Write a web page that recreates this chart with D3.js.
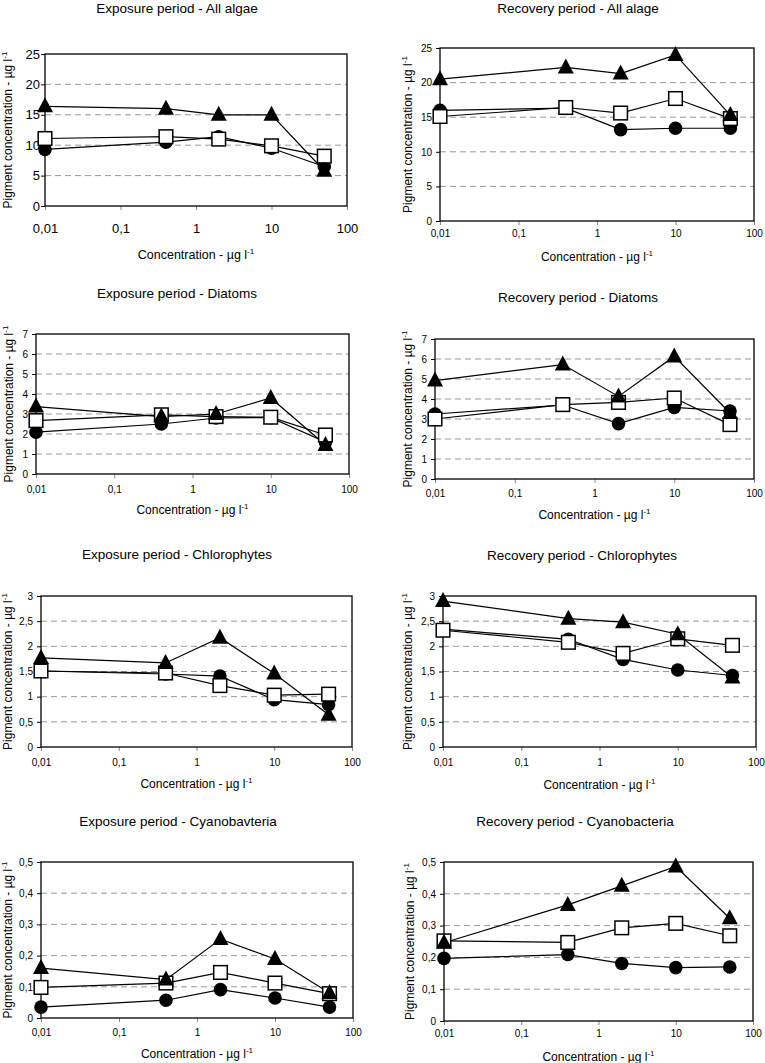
<!DOCTYPE html>
<html><head><meta charset="utf-8">
<script src="https://cdn.jsdelivr.net/npm/d3@7"></script>
<style>body{margin:0;background:#fff}svg{display:block}text{font-family:Arial,"Liberation Sans",sans-serif;fill:#000}</style>
</head><body>
<svg id="c" width="765" height="1063"></svg>
<script>
// ---- data ----
const concentrations = [0.01, 0.4, 2, 10, 50];
const xTickValues = [0.01, 0.1, 1, 10, 100];
const xTickLabels = ["0,01", "0,1", "1", "10", "100"];
const panelTitles = [
  "Exposure period - All algae", "Recovery period - All alage",
  "Exposure period - Diatoms", "Recovery period - Diatoms",
  "Exposure period - Chlorophytes", "Recovery period - Chlorophytes",
  "Exposure period - Cyanobavteria", "Recovery period - Cyanobacteria"
];
const yMaxValues = [25, 25, 7, 7, 3, 3, 0.5, 0.5];
const yStepValues = [5, 5, 1, 1, 0.5, 0.5, 0.1, 0.1];
const triangleSeries = [
  [16.4, 16.0, 15.0, 15.0, 5.8],
  [20.5, 22.2, 21.3, 24.0, 15.3],
  [3.37, 2.87, 3.0, 3.8, 1.45],
  [4.92, 5.72, 4.13, 6.13, 3.3],
  [1.77, 1.67, 2.17, 1.46, 0.64],
  [2.9, 2.55, 2.48, 2.24, 1.38],
  [0.16, 0.123, 0.253, 0.189, 0.08],
  [0.246, 0.365, 0.425, 0.486, 0.323]
];
const circleSeries = [
  [9.3, 10.5, 11.4, 9.5, 6.5],
  [16.0, 16.3, 13.2, 13.4, 13.4],
  [2.09, 2.5, 2.8, 2.82, 1.6],
  [3.25, 3.7, 2.77, 3.58, 3.4],
  [1.51, 1.45, 1.41, 0.94, 0.84],
  [2.34, 2.14, 1.74, 1.53, 1.42],
  [0.035, 0.057, 0.091, 0.064, 0.035],
  [0.197, 0.209, 0.181, 0.168, 0.17]
];
const squareSeries = [
  [11.1, 11.4, 11.0, 9.9, 8.2],
  [15.1, 16.4, 15.6, 17.7, 14.8],
  [2.67, 2.96, 2.87, 2.84, 1.95],
  [3.0, 3.72, 3.83, 4.05, 2.72],
  [1.51, 1.47, 1.22, 1.03, 1.05],
  [2.32, 2.08, 1.86, 2.15, 2.02],
  [0.098, 0.112, 0.146, 0.112, 0.078],
  [0.252, 0.247, 0.293, 0.307, 0.268]
];

// ---- layout (positions only) ----
const layout = [
  {L:45, R:347, T:54, B:206, tx:177, ty:8, xl:228, xt:255, yt:8, big:true},
  {L:440, R:754, T:48, B:221, tx:578, ty:8, xl:233, xt:257, yt:408},
  {L:36, R:349, T:334, B:474, tx:177, ty:293, xl:489, xt:510, yt:9},
  {L:435, R:754, T:339, B:479, tx:578, ty:297, xl:493, xt:515, yt:408},
  {L:41, R:352, T:596, B:747, tx:177, ty:554, xl:762, xt:784, yt:8},
  {L:443, R:756, T:596, B:747, tx:582, ty:555, xl:762, xt:785, yt:408},
  {L:41, R:353, T:862, B:1018, tx:178, ty:821, xl:1032, xt:1054, yt:8},
  {L:444, R:753, T:862, B:1021, tx:575, ty:821, xl:1033, xt:1057, yt:410}
];

const svg = d3.select("#c");
const fmt = v => String(+v.toFixed(2)).replace(".", ",");

layout.forEach((p, i) => {
  const g = svg.append("g");
  const x = d3.scaleLog().domain([0.01, 100]).range([p.L, p.R]);
  const y = d3.scaleLinear().domain([0, yMaxValues[i]]).range([p.B, p.T]);
  const yTicks = d3.range(0, yMaxValues[i] + yStepValues[i] / 2, yStepValues[i]);
  const tickFont = p.big ? 13 : 10;

  // gridlines
  g.selectAll(".grid").data(yTicks.filter((t, k) => k > 0 && k < yTicks.length - 1))
    .join("line")
    .attr("x1", p.L).attr("x2", p.R)
    .attr("y1", d => y(d)).attr("y2", d => y(d))
    .attr("stroke", "#999").attr("stroke-width", 1).attr("stroke-dasharray", "6,4");

  // y axis
  const ya = g.append("g").attr("transform", `translate(${p.L},0)`)
    .call(d3.axisLeft(y).tickValues(yTicks).tickFormat(fmt).tickSize(4).tickPadding(p.big ? 1 : 4));
  ya.select(".domain").remove();
  ya.selectAll("text").style("font-size", tickFont + "px").style("font-family", "Arial, 'Liberation Sans', sans-serif");
  ya.selectAll("line").attr("stroke", "#000");

  // x axis
  const xa = g.append("g").attr("transform", `translate(0,${p.B})`)
    .call(d3.axisBottom(x).tickValues(xTickValues).tickFormat((d, k) => xTickLabels[k]).tickSize(4));
  xa.select(".domain").remove();
  xa.selectAll("line").attr("stroke", "#888");
  xa.selectAll("text").attr("y", null).attr("dy", null)
    .attr("y", p.xl - p.B).attr("dominant-baseline", "central")
    .style("font-size", tickFont + "px").style("font-family", "Arial, 'Liberation Sans', sans-serif");

  // frame
  g.append("rect").attr("x", p.L).attr("y", p.T).attr("width", p.R - p.L).attr("height", p.B - p.T)
    .attr("fill", "none").attr("stroke", "#000").attr("stroke-width", 1.3);

  // titles
  g.append("text").attr("x", p.tx).attr("y", p.ty).attr("text-anchor", "middle")
    .attr("dominant-baseline", "central").style("font-size", "13.5px").text(panelTitles[i]);

  const xt = g.append("text").attr("x", (p.L + p.R) / 2).attr("y", p.xt).attr("text-anchor", "middle")
    .attr("dominant-baseline", "central").style("font-size", (p.big ? 12.5 : 12) + "px");
  xt.append("tspan").text("Concentration - µg l");
  xt.append("tspan").attr("dy", -4).style("font-size", "8px").text("-1");

  const cy = (p.T + p.B) / 2;
  const yt = g.append("text").attr("transform", `translate(${p.yt},${cy}) rotate(-90)`)
    .attr("text-anchor", "middle").attr("dominant-baseline", "central").style("font-size", "12px");
  yt.append("tspan").text("Pigment concentration - µg l");
  yt.append("tspan").attr("dy", -4).style("font-size", "8px").text("-1");

  const line = d3.line().x((d, k) => x(concentrations[k])).y(d => y(d));
  const series = [
    {vals: circleSeries[i], type: "circle"},
    {vals: squareSeries[i], type: "square"},
    {vals: triangleSeries[i], type: "triangle"}
  ];
  series.forEach(s => {
    g.append("path").attr("d", line(s.vals)).attr("fill", "none").attr("stroke", "#000").attr("stroke-width", 1.2);
  });
  series.forEach(s => {
    const pts = s.vals.map((v, k) => [x(concentrations[k]), y(v)]);
    if (s.type === "circle") {
      g.selectAll(null).data(pts).join("circle").attr("cx", d => d[0]).attr("cy", d => d[1])
        .attr("r", 6.8).attr("fill", "#000");
    } else if (s.type === "square") {
      g.selectAll(null).data(pts).join("rect").attr("x", d => d[0] - 6.8).attr("y", d => d[1] - 6.8)
        .attr("width", 13.6).attr("height", 13.6).attr("fill", "#fff").attr("stroke", "#000").attr("stroke-width", 1.5);
    } else {
      g.selectAll(null).data(pts).join("path")
        .attr("d", d => `M${d[0]},${d[1] - 9}L${d[0] + 8},${d[1] + 6}L${d[0] - 8},${d[1] + 6}Z`)
        .attr("fill", "#000");
    }
  });
});
</script>
</body></html>
